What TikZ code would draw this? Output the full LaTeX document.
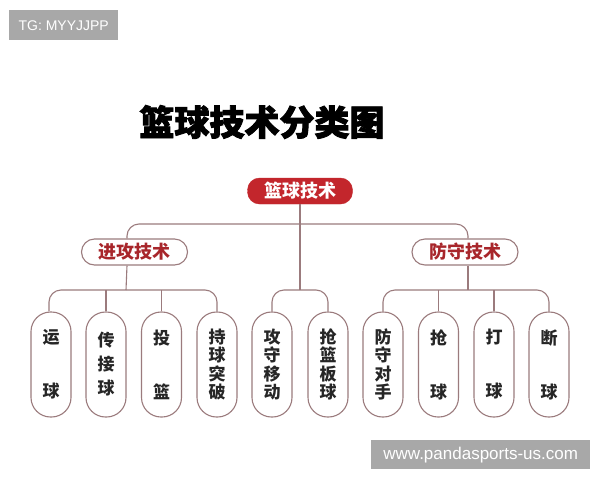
\documentclass[tikz,border=0pt]{standalone}
\usepackage{fontspec}
\setmainfont{Liberation Sans}
\newfontfamily\cjk{Noto Sans CJK SC}
\newfontfamily\cjkheavy{Noto Sans CJK SC}[BoldFeatures={FakeBold=2.5}]
\definecolor{rootred}{HTML}{C3262C}
\definecolor{darkred}{HTML}{A8262B}
\definecolor{linec}{HTML}{9B7B7D}
\definecolor{wmgray}{HTML}{A8A8A8}
\begin{document}
\begin{tikzpicture}[x=1pt,y=-1pt,
  conn/.style={draw=linec, line width=1.1pt, rounded corners=12pt},
  rootbox/.style={fill=rootred, draw=rootred, rounded corners=12pt, minimum width=105pt, minimum height=26pt, inner sep=0pt, text=white, font=\cjk\bfseries\fontsize{18}{20}\selectfont},
  catbox/.style={draw=linec, line width=1.1pt, fill=white, rounded corners=13pt, minimum width=106pt, minimum height=26pt, inner sep=0pt, text=darkred, font=\cjk\bfseries\fontsize{18}{20}\selectfont},
  leaf/.style={draw=linec, line width=1.1pt, fill=white, rounded corners=19.5pt, minimum width=40pt, minimum height=105pt, inner sep=0pt, align=center, text=black!85, font=\cjk\bfseries\fontsize{17}{#1}\selectfont},
  wm/.style={fill=wmgray, text=white, inner sep=0pt, anchor=north west}
]
\useasboundingbox (0,0) rectangle (600,480);
\fill[white] (0,0) rectangle (600,480);
% watermarks
\node[wm, minimum width=109pt, minimum height=30pt, font=\fontsize{14}{16}\selectfont] (wmtop) at (9,10) {TG: MYYJJPP};
\node[wm, minimum width=219pt, minimum height=29pt, font=\fontsize{17}{19}\selectfont] (wmbot) at (371,440) {www.pandasports-us.com};
% title
\node[font=\cjkheavy\bfseries\fontsize{35}{40}\selectfont] (title) at (262,122) {篮球技术分类图};
% root and categories
\node[rootbox] (root) at (300,191) {篮球技术};
\node[catbox] (atk) at (134.5,252) {进攻技术};
\node[catbox] (def) at (465,252) {防守技术};
% leaves
\node[leaf=54pt] (n1) at (51,364.5) {运\\球};
\node[leaf=24pt] (n2) at (106,364.5) {传\\接\\球};
\node[leaf=54pt] (n3) at (161.5,364.5) {投\\篮};
\node[leaf=18.5pt] (n4) at (217,364.5) {持\\球\\突\\破};
\node[leaf=18.5pt] (n5) at (272,364.5) {攻\\守\\移\\动};
\node[leaf=18.5pt] (n6) at (328,364.5) {抢\\篮\\板\\球};
\node[leaf=18.5pt] (n7) at (383,364.5) {防\\守\\对\\手};
\node[leaf=54pt] (n8) at (438.5,364.5) {抢\\球};
\node[leaf=54pt] (n9) at (494,364.5) {打\\球};
\node[leaf=54pt] (n10) at (549,364.5) {断\\球};
% bar coordinates
\coordinate (bar1) at (300,224);
\coordinate (barL) at (126,290);
\coordinate (barM) at (300,290);
\coordinate (barR) at (468,290);
% connectors
\draw[conn] ([xshift=-7.5pt]atk.north) |- (bar1) -| ([xshift=3pt]def.north);
\draw[conn] (root.south) -- (barM);
\draw[conn] ([xshift=-7.5pt]atk.south) -- (barL);
\draw[conn] ([xshift=3pt]def.south) -- (barR);
\draw[conn] ([xshift=-2pt]n1.north) |- (barL) -| (n4.north);
\draw[conn] (n2.north) -- (n2.north |- barL);
\draw[conn] (n3.north) -- (n3.north |- barL);
\draw[conn] (n5.north) |- (barM) -| (n6.north);
\draw[conn] (n7.north) |- (barR) -| (n10.north);
\draw[conn] (n8.north) -- (n8.north |- barR);
\draw[conn] (n9.north) -- (n9.north |- barR);
\end{tikzpicture}
\end{document}
